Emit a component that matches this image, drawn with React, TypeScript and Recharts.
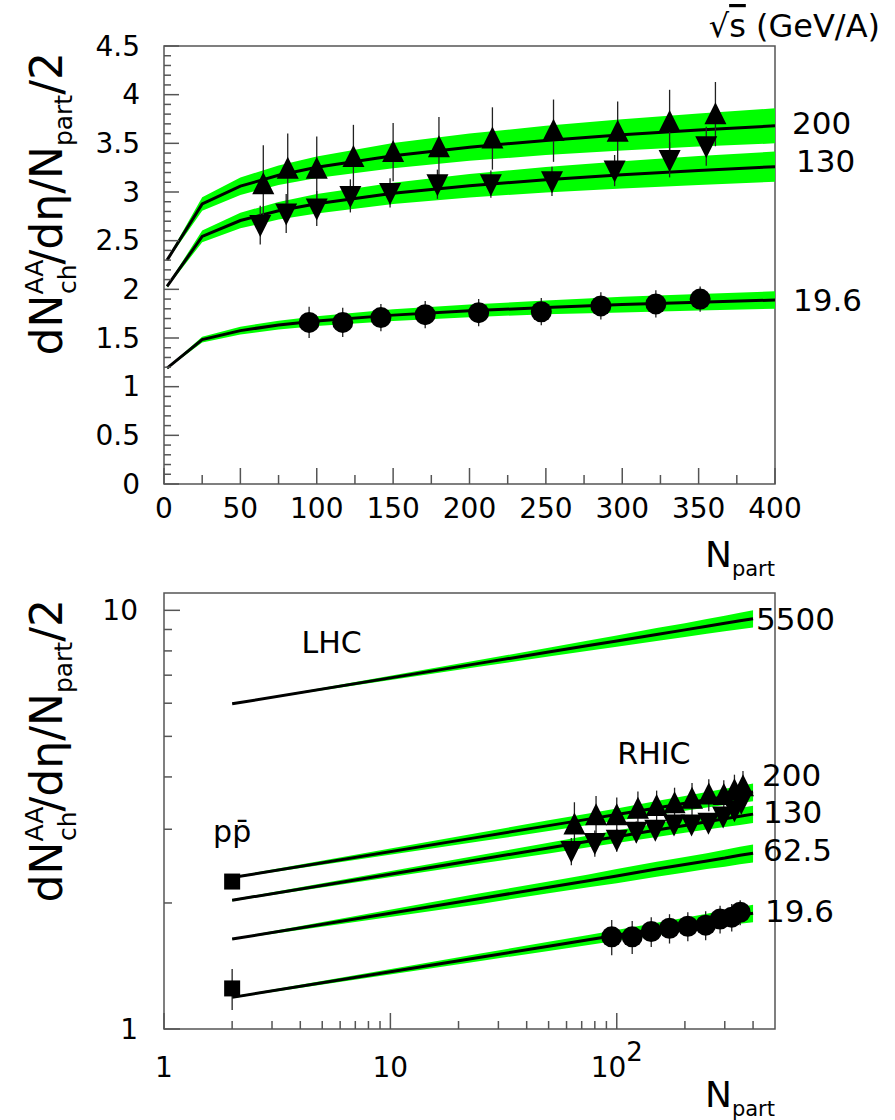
import React from 'react';
import {
  ComposedChart,
  XAxis,
  YAxis,
  Line,
  Area,
  Scatter,
  ErrorBar,
  ReferenceDot,
  ReferenceArea,
} from 'recharts';

const FONT = '"DejaVu Sans", Verdana, sans-serif';
const GREEN = '#00ff00';
const FRAME = '#555555';

// ---------- model curves (N_part grid) ----------
const curveN = [2, 25, 50, 75, 100, 150, 200, 250, 300, 350, 400];
const curve5500 = [5.98, 7.48, 7.95, 8.24, 8.45, 8.76, 8.98, 9.16, 9.31, 9.44, 9.55];
const band5500 = [0.0, 0.14, 0.19, 0.23, 0.26, 0.31, 0.34, 0.37, 0.4, 0.43, 0.45];
const curve200 = [2.3, 2.877, 3.06, 3.172, 3.254, 3.373, 3.46, 3.53, 3.587, 3.637, 3.68];
const band200 = [0.01, 0.07, 0.09, 0.1, 0.11, 0.13, 0.14, 0.15, 0.16, 0.17, 0.18];
const curve130 = [2.03, 2.544, 2.707, 2.807, 2.88, 2.986, 3.064, 3.126, 3.177, 3.221, 3.26];
const band130 = [0.01, 0.06, 0.08, 0.09, 0.1, 0.11, 0.12, 0.13, 0.14, 0.15, 0.155];
const curve62 = [1.64, 2.05, 2.18, 2.26, 2.32, 2.41, 2.47, 2.52, 2.56, 2.6, 2.63];
const band62 = [0.005, 0.06, 0.07, 0.08, 0.09, 0.1, 0.105, 0.11, 0.12, 0.125, 0.13];
const curve19 = [1.19, 1.484, 1.576, 1.633, 1.674, 1.735, 1.779, 1.814, 1.843, 1.868, 1.89];
const band19 = [0.005, 0.03, 0.04, 0.045, 0.05, 0.06, 0.065, 0.07, 0.08, 0.085, 0.09];

// ---------- measured points ----------
const n200 = [65, 81, 100, 124, 150, 180, 215, 255, 297, 331, 361];
const v200 = [3.08, 3.24, 3.24, 3.36, 3.41, 3.46, 3.55, 3.63, 3.62, 3.72, 3.8];
const e200 = [0.4, 0.36, 0.33, 0.33, 0.3, 0.31, 0.32, 0.32, 0.31, 0.33, 0.33];

const n130 = [63, 80, 100, 122, 148, 179, 214, 254, 295, 331, 355];
const v130 = [2.66, 2.78, 2.83, 2.96, 2.99, 3.08, 3.08, 3.11, 3.22, 3.33, 3.47];
const e130 = [0.2, 0.2, 0.18, 0.17, 0.15, 0.15, 0.14, 0.15, 0.16, 0.18, 0.2];

const n19 = [95, 117, 142, 171, 206, 247, 286, 322, 351];
const v19 = [1.66, 1.66, 1.71, 1.74, 1.76, 1.77, 1.83, 1.85, 1.9];
const e19 = [0.16, 0.15, 0.14, 0.14, 0.14, 0.14, 0.14, 0.14, 0.13];

const nPP = [2, 2];
const vPP = [2.25, 1.25];
const ePP = [0.05, 0.14];

// ---------- ticks ----------
const topXLabels = [0, 50, 100, 150, 200, 250, 300, 350, 400];
const topXTicks = [0, 25, 50, 75, 100, 125, 150, 175, 200, 225, 250, 275, 300, 325, 350, 375, 400];
const topYLabels = [0, 0.5, 1, 1.5, 2, 2.5, 3, 3.5, 4, 4.5];
const topYTicks = Array.from({ length: 46 }, (_, i) => i / 10);
const logXLabels = [1, 10, 100];
const logXTicks = [1, 2, 3, 4, 5, 6, 7, 8, 9, 10, 20, 30, 40, 50, 60, 70, 80, 90, 100, 200, 300, 400];
const logYLabels = [1, 10];
const logYTicks = [1, 2, 3, 4, 5, 6, 7, 8, 9, 10];

const mkCurve = (vals: number[], band: number[]) =>
  curveN.map((x, i) => ({ x, y: vals[i], band: [vals[i] - band[i], vals[i] + band[i]] }));
const mkPts = (ns: number[], vs: number[], es: number[]) =>
  ns.map((x, i) => ({ x, y: vs[i], err: es[i] }));

const c5500 = mkCurve(curve5500, band5500);
const c200 = mkCurve(curve200, band200);
const c130 = mkCurve(curve130, band130);
const c62 = mkCurve(curve62, band62);
const c19 = mkCurve(curve19, band19);
const p200 = mkPts(n200, v200, e200);
const p130 = mkPts(n130, v130, e130);
const p19 = mkPts(n19, v19, e19);
const pPP = mkPts(nPP, vPP, ePP);

// ---------- markers ----------
const TriUp = (p: any) => (
  <polygon points={`${p.cx},${p.cy - 12} ${p.cx + 11},${p.cy + 10} ${p.cx - 11},${p.cy + 10}`} fill="#000" />
);
const TriDown = (p: any) => (
  <polygon points={`${p.cx},${p.cy + 12} ${p.cx + 11},${p.cy - 10} ${p.cx - 11},${p.cy - 10}`} fill="#000" />
);
const Dot = (p: any) => <circle cx={p.cx} cy={p.cy} r={10.5} fill="#000" />;
const Sq = (p: any) => <rect x={p.cx - 8} y={p.cy - 8} width={16} height={16} fill="#000" />;

// ---------- ticks renderers ----------
const txt = { fontFamily: FONT, fill: '#000' } as const;

const TopXTick = (p: any) => {
  const { x, y, payload } = p;
  const v = payload.value;
  const major = topXLabels.includes(v);
  return (
    <g>
      <line x1={x} x2={x} y1={y} y2={y - (major ? 16 : 9)} stroke={FRAME} strokeWidth={1.5} />
      {major && (
        <text x={x} y={y + 34} textAnchor="middle" fontSize={28} {...txt}>
          {v}
        </text>
      )}
    </g>
  );
};
const TopYTick = (p: any) => {
  const { x, y, payload } = p;
  const v = payload.value;
  const major = topYLabels.includes(v);
  return (
    <g>
      <line x1={x} x2={x + (major ? 15 : 7)} y1={y} y2={y} stroke={FRAME} strokeWidth={1.5} />
      {major && (
        <text x={x - 24} y={y} textAnchor="end" dominantBaseline="central" fontSize={28} {...txt}>
          {v}
        </text>
      )}
    </g>
  );
};
const LogXTick = (p: any) => {
  const { x, y, payload } = p;
  const v = payload.value;
  const major = logXLabels.includes(v);
  return (
    <g>
      <line x1={x} x2={x} y1={y} y2={y - (major ? 16 : 8)} stroke={FRAME} strokeWidth={1.5} />
      {major && (
        <text x={x} y={y + 48} textAnchor="middle" fontSize={28} {...txt}>
          {v === 100 ? (
            <>
              10<tspan fontSize={26} dy={-16}>2</tspan>
            </>
          ) : (
            v
          )}
        </text>
      )}
    </g>
  );
};
const LogYTick = (p: any) => {
  const { x, y, payload } = p;
  const v = payload.value;
  const major = logYLabels.includes(v);
  return (
    <g>
      <line x1={x} x2={x + (major ? 16 : 8)} y1={y} y2={y} stroke={FRAME} strokeWidth={1.5} />
      {major && (
        <text x={x - 26} y={y} textAnchor="end" dominantBaseline="central" fontSize={28} {...txt}>
          {v}
        </text>
      )}
    </g>
  );
};

// ---------- titles ----------
const YTitle = (p: any) => {
  const vb = p.viewBox;
  const x = vb.x + vb.width - 102;
  const y = vb.y + 6;
  return (
    <text transform={`rotate(-90 ${x} ${y})`} x={x} y={y} textAnchor="end" fontSize={44} {...txt}>
      dN
      <tspan fontSize={25} dy={-19}>AA</tspan>
      <tspan fontSize={25} dx={-34} dy={33}>ch</tspan>
      <tspan dy={-14}>/dη/N</tspan>
      <tspan fontSize={25} dy={10}>part</tspan>
      <tspan dy={-10}>/2</tspan>
    </text>
  );
};
const XTitle = (off: number) => (p: any) => {
  const vb = p.viewBox;
  return (
    <text x={vb.x + vb.width} y={vb.y + off} textAnchor="end" fontSize={36} {...txt}>
      N<tspan fontSize={21} dy={9}>part</tspan>
    </text>
  );
};
const sideLabel = (s: string, dx: number, dy: number, size = 31) => (p: any) => (
  <text
    x={p.viewBox.x + dx}
    y={p.viewBox.y + dy}
    dominantBaseline="central"
    fontSize={size}
    {...txt}
  >
    {s}
  </text>
);
const centerLabel = (s: string) => (p: any) => (
  <text x={p.viewBox.x} y={p.viewBox.y} textAnchor="middle" dominantBaseline="central" fontSize={30} {...txt}>
    {s}
  </text>
);

const band = (data: any[]) => (
  <Area
    data={data}
    dataKey="band"
    type="linear"
    fill={GREEN}
    fillOpacity={1}
    stroke="none"
    isAnimationActive={false}
    activeDot={false}
  />
);
const curve = (data: any[]) => (
  <Line
    data={data}
    dataKey="y"
    type="linear"
    stroke="#000"
    strokeWidth={3}
    dot={false}
    activeDot={false}
    isAnimationActive={false}
  />
);
const pts = (data: any[], shape: any) => (
  <Scatter data={data} dataKey="y" shape={shape} isAnimationActive={false}>
    <ErrorBar dataKey="err" direction="y" width={0} stroke="#222" strokeWidth={1.3} />
  </Scatter>
);

export default function App() {
  return (
    <div style={{ position: 'absolute', left: 0, top: 0, width: 895, height: 1120, background: '#fff' }}>
      <div style={{ position: 'absolute', left: 0, top: 0 }}>
        <ComposedChart width={895} height={600} margin={{ top: 46, right: 120, bottom: 0, left: 0 }}>
          <XAxis
            dataKey="x"
            type="number"
            domain={[0, 400]}
            allowDataOverflow
            ticks={topXTicks}
            interval={0}
            tick={TopXTick}
            tickLine={false}
            axisLine={false}
            tickSize={0}
            tickMargin={0}
            height={116}
            label={XTitle(83)}
          />
          <YAxis
            type="number"
            domain={[0, 4.5]}
            allowDataOverflow
            ticks={topYTicks}
            interval={0}
            tick={TopYTick}
            tickLine={false}
            axisLine={false}
            tickSize={0}
            tickMargin={0}
            width={164}
            label={YTitle}
          />
          <ReferenceArea x1={0} x2={400} y1={0} y2={4.5} fill="none" stroke={FRAME} strokeWidth={1.5} ifOverflow="visible" />
          {band(c200)}
          {band(c130)}
          {band(c19)}
          {curve(c200)}
          {curve(c130)}
          {curve(c19)}
          {pts(p200, TriUp)}
          {pts(p130, TriDown)}
          {pts(p19, Dot)}
          <ReferenceDot x={400} y={4.5} r={0} fill="none" stroke="none" ifOverflow="visible"
            label={(p: any) => (
              <text x={p.viewBox.x + 105} y={p.viewBox.y - 9} textAnchor="end" fontSize={32} {...txt}>
                √<tspan textDecoration="overline">s</tspan> (GeV/A)
              </text>
            )}
          />
          <ReferenceDot x={400} y={curve200[10]} r={0} fill="none" stroke="none" ifOverflow="visible" label={sideLabel('200', 17, -3)} />
          <ReferenceDot x={400} y={curve130[10]} r={0} fill="none" stroke="none" ifOverflow="visible" label={sideLabel('130', 21, -6)} />
          <ReferenceDot x={400} y={curve19[10]} r={0} fill="none" stroke="none" ifOverflow="visible" label={sideLabel('19.6', 18, 0)} />
        </ComposedChart>
      </div>
      <div style={{ position: 'absolute', left: 0, top: 560 }}>
        <ComposedChart width={895} height={560} margin={{ top: 33, right: 120, bottom: 0, left: 0 }}>
          <XAxis
            dataKey="x"
            type="number"
            scale="log"
            domain={[1, 500]}
            allowDataOverflow
            ticks={logXTicks}
            interval={0}
            tick={LogXTick}
            tickLine={false}
            axisLine={false}
            tickSize={0}
            tickMargin={0}
            height={91}
            label={XTitle(78)}
          />
          <YAxis
            type="number"
            scale="log"
            domain={[1, 11]}
            allowDataOverflow
            ticks={logYTicks}
            interval={0}
            tick={LogYTick}
            tickLine={false}
            axisLine={false}
            tickSize={0}
            tickMargin={0}
            width={164}
            label={YTitle}
          />
          <ReferenceArea x1={1} x2={500} y1={1} y2={11} fill="none" stroke={FRAME} strokeWidth={1.5} ifOverflow="visible" />
          {band(c5500)}
          {band(c200)}
          {band(c130)}
          {band(c62)}
          {band(c19)}
          {curve(c5500)}
          {curve(c200)}
          {curve(c130)}
          {curve(c62)}
          {curve(c19)}
          {pts(pPP, Sq)}
          {pts(p200, TriUp)}
          {pts(p130, TriDown)}
          {pts(p19, Dot)}
          <ReferenceDot x={400} y={curve5500[10]} r={0} fill="none" stroke="none" ifOverflow="visible" label={sideLabel('5500', 3, 0)} />
          <ReferenceDot x={400} y={curve200[10]} r={0} fill="none" stroke="none" ifOverflow="visible" label={sideLabel('200', 9, -17)} />
          <ReferenceDot x={400} y={curve130[10]} r={0} fill="none" stroke="none" ifOverflow="visible" label={sideLabel('130', 10, -2)} />
          <ReferenceDot x={400} y={curve62[10]} r={0} fill="none" stroke="none" ifOverflow="visible" label={sideLabel('62.5', 10, -3)} />
          <ReferenceDot x={400} y={curve19[10]} r={0} fill="none" stroke="none" ifOverflow="visible" label={sideLabel('19.6', 12, -2)} />
          <ReferenceDot x={5.5} y={8.4} r={0} fill="none" stroke="none" ifOverflow="visible" label={centerLabel('LHC')} />
          <ReferenceDot x={146} y={4.55} r={0} fill="none" stroke="none" ifOverflow="visible" label={centerLabel('RHIC')} />
          <ReferenceDot x={2} y={2.8} r={0} fill="none" stroke="none" ifOverflow="visible"
            label={(p: any) => (
              <text x={p.viewBox.x} y={p.viewBox.y} textAnchor="middle" fontSize={30} {...txt}>
                pp̄
              </text>
            )}
          />
        </ComposedChart>
      </div>
    </div>
  );
}
